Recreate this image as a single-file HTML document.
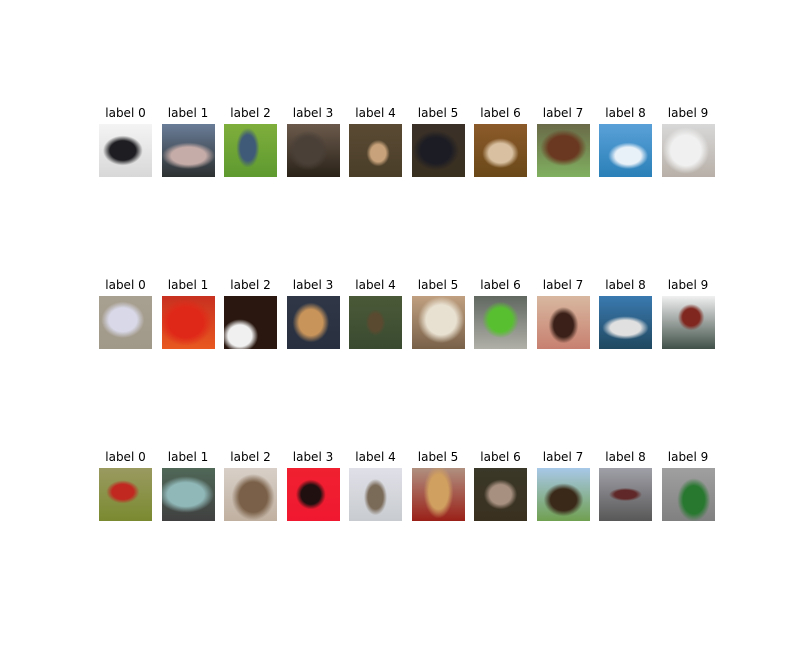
<!DOCTYPE html>
<html><head><meta charset="utf-8"><style>
body{margin:0;background:#fff;width:792px;height:648px;overflow:hidden;font-family:"Liberation Sans","DejaVu Sans",sans-serif}
#fig{position:relative;width:792px;height:648px}
.lbl{position:absolute;width:80px;text-align:center;font-size:12px;color:#000;font-family:"DejaVu Sans","Liberation Sans",sans-serif}
.img{position:absolute;width:53px;height:53px;overflow:hidden}
</style></head><body>
<div id="fig"></div>
<script>
// per image: [top bg, bottom bg, blob color, blob x%, blob y%, blob w%, blob h%]
const row0 = [
 ['#f4f4f4','#d8d8d8','#1e1e22',45,50,60,45],
 ['#6a7d98','#2c3030','#c5aca8',50,60,80,40],
 ['#7fae3c','#5e9a30','#3f5a78',45,45,35,60],
 ['#6b5a4c','#2a2218','#4a4038',40,50,60,60],
 ['#5a4a34','#4a3e28','#c8a27a',55,55,35,40],
 ['#3a3028','#3a3020','#1c1c24',45,50,70,60],
 ['#8c5a2a','#6a4818','#d8c0a0',50,55,55,45],
 ['#6a6a48','#80b060','#6a3820',50,45,70,55],
 ['#5aa0d8','#2a80b8','#e8f0f8',55,60,60,40],
 ['#d8d8d8','#b8b0a8','#f0f0f0',45,50,70,70]
];
const row1 = [
 ['#a8a090','#a09888','#d8d8e8',45,45,65,55],
 ['#c83020','#e85820','#e02818',45,50,80,70],
 ['#2a1810','#2a1810','#f0f0f0',30,75,55,50],
 ['#303848','#283040','#c8945a',45,50,55,60],
 ['#4a5a38','#3a4a30','#5a4a30',50,50,30,40],
 ['#c0a080','#786048','#e8e0d0',55,45,70,70],
 ['#606860','#b0b0a8','#58c030',50,45,55,55],
 ['#d8b8a0','#c88070','#3a2018',50,55,45,55],
 ['#3a7ab0','#204860','#e0e0e0',50,60,70,35],
 ['#f0f0f0','#405048','#802820',55,40,40,40]
];
const row2 = [
 ['#9a9a60','#7a8a30','#c02820',45,45,50,35],
 ['#506858','#404040','#90b8b8',45,50,85,55],
 ['#d8d0c8','#c0b0a0','#7a6048',55,55,65,70],
 ['#f02030','#f01830','#201010',45,50,45,45],
 ['#e0e0e8','#c8ccd0','#7a6a58',50,55,35,55],
 ['#b09080','#9a2018','#d0a060',50,45,45,80],
 ['#3a3828','#3a3020','#a89080',50,50,50,45],
 ['#a8c8e8','#70a050','#3a2818',50,60,60,50],
 ['#a0a0a8','#585858','#602828',50,50,50,20],
 ['#a0a0a0','#808080','#287830',60,60,50,65]
];
const rows = [row0,row1,row2];
const labels = ['label 0','label 1','label 2','label 3','label 4','label 5','label 6','label 7','label 8','label 9'];
const rowTops = [124,296,468];
const fig = document.getElementById('fig');
rows.forEach((row,r)=>{
  row.forEach((c,i)=>{
    const x = 99 + i*62.5;
    const l = document.createElement('div');
    l.className='lbl';
    l.style.left=(x+26.5-40)+'px';
    l.style.top=(rowTops[r]-18)+'px';
    l.textContent=labels[i];
    
    
    fig.appendChild(l);
    const d = document.createElement('div');
    d.className='img';
    d.style.left=x+'px';
    d.style.top=rowTops[r]+'px';
    d.style.background=`radial-gradient(ellipse ${c[5]/1.6}% ${c[6]/1.6}% at ${c[3]}% ${c[4]}%, ${c[2]} 65%, transparent 100%), linear-gradient(${c[0]}, ${c[1]})`;
    
    
    fig.appendChild(d);
  });
});
</script>
</body></html>
